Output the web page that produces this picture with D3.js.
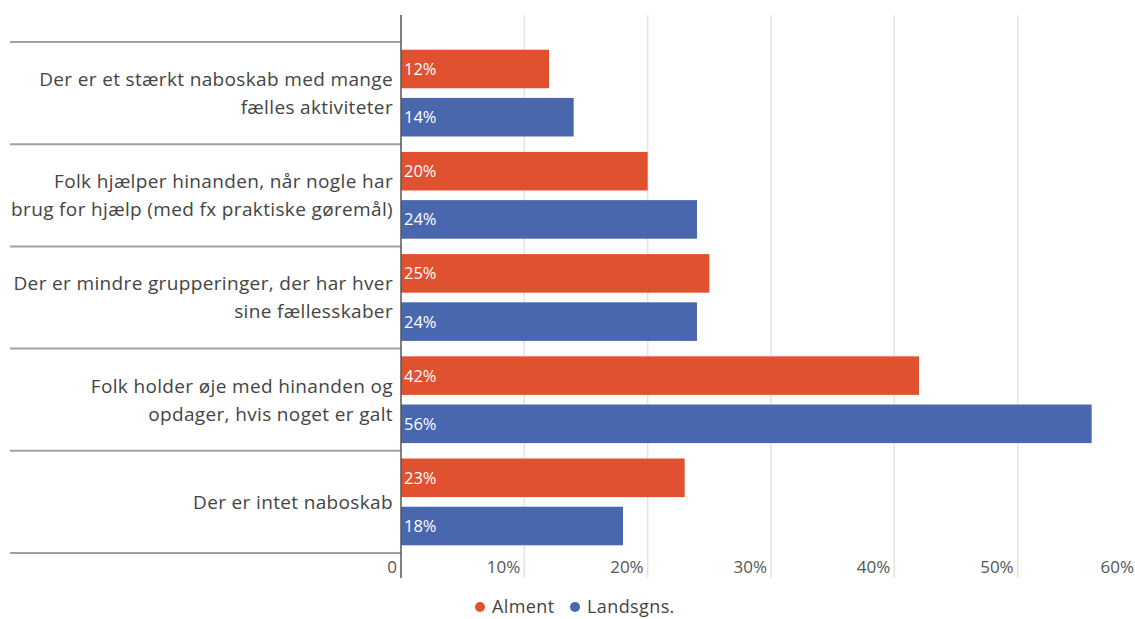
<!DOCTYPE html>
<html><head><meta charset="utf-8">
<script src="https://cdn.jsdelivr.net/npm/d3@7"></script>
<style>body{margin:0;background:#fff;}svg{display:block;font-family:"Open Sans", Lato, sans-serif;}</style>
</head><body><svg id="c" width="1135" height="619"></svg>
<script>
const categories = [
  ["Der er et stærkt naboskab med mange", "fælles aktiviteter"],
  ["Folk hjælper hinanden, når nogle har", "brug for hjælp (med fx praktiske gøremål)"],
  ["Der er mindre grupperinger, der har hver", "sine fællesskaber"],
  ["Folk holder øje med hinanden og", "opdager, hvis noget er galt"],
  ["Der er intet naboskab"]
];
const seriesNames = ["Alment", "Landsgns."];
const alment = [12, 20, 25, 42, 23];
const landsgns = [14, 24, 24, 56, 18];
const tickValues = [0, 10, 20, 30, 40, 50, 60];
const tickLabels = ["0", "10%", "20%", "30%", "40%", "50%", "60%"];
const colors = ["#E0522F", "#4967AF"];

const svg = d3.select("#c");
const x = d3.scaleLinear().domain([0, 60]).range([401, 1141]);
const y = d3.scaleBand().domain(d3.range(categories.length)).range([42, 553]).paddingInner(0).paddingOuter(0);
const sub = d3.scaleBand().domain([0, 1]).range([0, y.bandwidth()]).paddingInner(0.2).paddingOuter(0.16);

// gridlines
svg.append("g").selectAll("line").data(tickValues.slice(1)).join("line")
  .attr("x1", d => x(d)).attr("x2", d => x(d)).attr("y1", 15).attr("y2", 578)
  .attr("stroke", "#e3e3e3").attr("stroke-width", 1.5);

// category separators
svg.append("g").selectAll("line").data(d3.range(categories.length + 1)).join("line")
  .attr("x1", 10).attr("x2", 401)
  .attr("y1", i => i < categories.length ? y(i) : y(categories.length - 1) + y.bandwidth())
  .attr("y2", i => i < categories.length ? y(i) : y(categories.length - 1) + y.bandwidth())
  .attr("stroke", "#a0a0a0").attr("stroke-width", 2);

const data = [];
categories.forEach((c, i) => {
  data.push({i, s: 0, v: alment[i]});
  data.push({i, s: 1, v: landsgns[i]});
});

svg.append("g").selectAll("rect").data(data).join("rect")
  .attr("x", x(0)).attr("y", d => y(d.i) + sub(d.s))
  .attr("width", d => x(d.v) - x(0)).attr("height", sub.bandwidth())
  .attr("fill", d => colors[d.s]);

svg.append("g").selectAll("text").data(data).join("text")
  .attr("x", x(0) + 3).attr("y", d => y(d.i) + sub(d.s) + sub.bandwidth() / 2)
  .attr("dy", "0.36em").attr("fill", "#fff").attr("font-size", 16.5)
  .text(d => d.v + "%");

// axis line
svg.append("line").attr("x1", 401).attr("x2", 401).attr("y1", 15).attr("y2", 578)
  .attr("stroke", "#555").attr("stroke-width", 1.5);

// tick labels
svg.append("g").selectAll("text").data(tickValues).join("text")
  .attr("x", d => Math.min(x(d) - 4, 1134)).attr("y", 573).attr("text-anchor", "end")
  .attr("fill", "#555").attr("font-size", 17).text((d, i) => tickLabels[i]);

// category labels
const cl = svg.append("g").selectAll("text").data(categories).join("text")
  .attr("text-anchor", "end").attr("fill", "#444").attr("font-size", 19)
  .attr("letter-spacing", 0.35)
  .attr("transform", (d, i) => `translate(393,${y(i) + y.bandwidth() / 2})`);
cl.each(function(lines) {
  const t = d3.select(this);
  const n = lines.length;
  lines.forEach((l, k) => {
    t.append("tspan").attr("x", 0).attr("y", (k - (n - 1) / 2) * 28).attr("dy", "0.36em").text(l);
  });
});

// legend
const legend = svg.append("g");
const lx = [480, 575];
seriesNames.forEach((s, i) => {
  legend.append("circle").attr("cx", lx[i]).attr("cy", 607).attr("r", 5).attr("fill", colors[i]);
  legend.append("text").attr("x", lx[i] + 12).attr("y", 607).attr("dy", "0.36em")
    .attr("fill", "#444").attr("font-size", 18).attr("letter-spacing", 0.4).text(s);
});
</script></body></html>
